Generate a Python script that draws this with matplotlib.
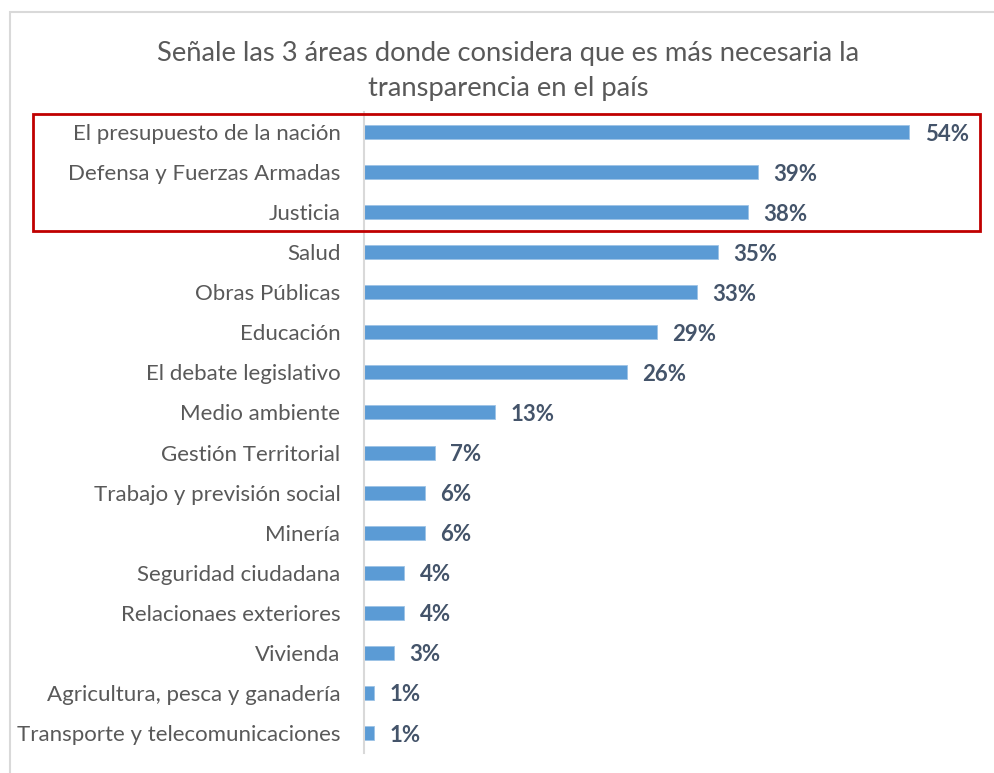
import matplotlib
matplotlib.use("Agg")
import matplotlib.pyplot as plt
from matplotlib.patches import Rectangle

categories = [
    "El presupuesto de la nación",
    "Defensa y Fuerzas Armadas",
    "Justicia",
    "Salud",
    "Obras Públicas",
    "Educación",
    "El debate legislativo",
    "Medio ambiente",
    "Gestión Territorial",
    "Trabajo y previsión social",
    "Minería",
    "Seguridad ciudadana",
    "Relacionaes exteriores",
    "Vivienda",
    "Agricultura, pesca y ganadería",
    "Transporte y telecomunicaciones",
]
values = [54, 39, 38, 35, 33, 29, 26, 13, 7, 6, 6, 4, 4, 3, 1, 1]
title = "Señale las 3 áreas donde considera que es más necesaria la\ntransparencia en el país"

W, H = 995, 773
fig = plt.figure(figsize=(W / 100, H / 100), dpi=100)
fig.patch.set_facecolor("white")

def fx(px):
    return px / W

def fy(py):
    return 1 - py / H

FONT = ["Lato", "DejaVu Sans"]

ax = fig.add_axes([fx(364), fy(753), fx(970) - fx(364), fy(112) - fy(753)])
n = len(categories)
ypos = list(range(n))
ax.barh(ypos, values, height=0.35, color="#5B9BD5", edgecolor="#9DC3E6", linewidth=0.6)
ax.set_ylim(n - 0.5, -0.5)
ax.set_xlim(0, 60)
ax.set_yticks(ypos)
ax.set_yticklabels(categories, fontsize=16, color="#595959", family=FONT)
ax.tick_params(axis="y", length=0, pad=17)
ax.set_xticks([])
for s in ["top", "right", "bottom"]:
    ax.spines[s].set_visible(False)
ax.spines["left"].set_color("#D9D9D9")
ax.spines["left"].set_linewidth(1.5)

for y, v in zip(ypos, values):
    ax.annotate(f"{v}%", xy=(v, y), xytext=(11, -1.5), textcoords="offset points",
                va="center", ha="left", fontsize=16, fontweight="bold",
                color="#44546A", family=FONT)

fig.text(fx(508), fy(71), title, ha="center", va="center", fontsize=19.7,
         color="#595959", family=FONT, linespacing=1.5)

# outer chart frame (cropped at right and bottom)
fig.add_artist(Rectangle((fx(10), fy(W)), 1.2, fy(12) - fy(W), transform=fig.transFigure,
                         fill=False, edgecolor="#D9D9D9", linewidth=1.5, clip_on=False))
# red highlight box
fig.add_artist(Rectangle((fx(33), fy(231)), fx(980) - fx(33), fy(114) - fy(231),
                         transform=fig.transFigure, fill=False, edgecolor="#C00000",
                         linewidth=2, clip_on=False))

fig.savefig("out.png", dpi=100)
